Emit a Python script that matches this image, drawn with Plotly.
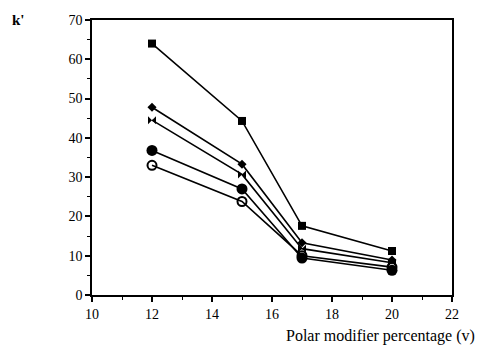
import plotly.graph_objects as go

x_vals = [12, 15, 17, 20]
s_square = [64, 44.3, 17.6, 11.2]
s_diamond = [47.8, 33.3, 13.3, 8.9]
s_bowtie = [44.5, 30.7, 11.8, 8.2]
s_filled = [36.8, 27.0, 9.4, 6.3]
s_open = [33.0, 23.8, 10.0, 7.1]

series = [
    (s_square, "square", 8, "black"),
    (s_diamond, "diamond", 7, "black"),
    (s_bowtie, "bowtie", 8, "black"),
    (s_filled, "circle", 11, "black"),
    (s_open, "circle-open", 9, "black"),
]

fig = go.Figure()
for ys, sym, sz, col in series:
    fig.add_trace(go.Scatter(
        x=x_vals, y=ys, mode="lines+markers",
        line=dict(color="black", width=1.6),
        marker=dict(symbol=sym, size=sz, color="black",
                    line=dict(color="black", width=2 if sym == "circle-open" else 0)),
        showlegend=False,
    ))

axis_common = dict(
    showline=True, linecolor="black", linewidth=1.6, mirror=True,
    ticks="outside", ticklen=5, tickwidth=1.5, tickcolor="black",
    showgrid=False, zeroline=False,
    tickfont=dict(family="Liberation Serif", size=14, color="black"),
)

fig.update_xaxes(range=[10, 22], tickvals=[10, 12, 14, 16, 18, 20, 22],
                 minor=dict(dtick=1, ticks="outside", ticklen=3, tickcolor="black", tickwidth=1.2),
                 **axis_common)
fig.update_yaxes(range=[0, 70], tickvals=[0, 10, 20, 30, 40, 50, 60, 70],
                 minor=dict(dtick=5, ticks="outside", ticklen=3, tickcolor="black", tickwidth=1.2),
                 **axis_common)

fig.add_annotation(text="Polar modifier percentage (v)", xref="paper", yref="paper",
                   x=1.069, y=-0.15, xanchor="right", yanchor="middle", showarrow=False,
                   font=dict(family="Liberation Serif", size=16, color="black"))
fig.add_annotation(text="<b>k'</b>", xref="paper", yref="paper",
                   x=-0.205, y=1.0, xanchor="center", yanchor="middle", showarrow=False,
                   font=dict(family="Liberation Serif", size=15, color="black"))

fig.update_layout(
    width=479, height=351,
    margin=dict(l=92, r=27, t=20, b=56),
    paper_bgcolor="white", plot_bgcolor="white",
)

fig.write_html("out.html")
